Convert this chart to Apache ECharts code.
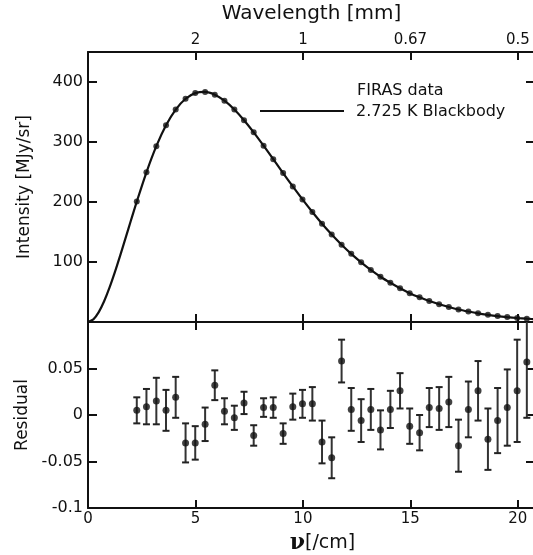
<!DOCTYPE html>
<html>
<head>
<meta charset="utf-8">
<script src="https://cdn.jsdelivr.net/npm/echarts@6/dist/echarts.min.js"></script>
<style>
html,body{margin:0;padding:0;background:#fff;}
#main{width:533px;height:555px;}
</style>
</head>
<body>
<div id="main"></div>
<script>
// FIRAS frequencies [/cm]
var nu = [2.27, 2.72, 3.18, 3.63, 4.08, 4.54, 4.99, 5.45, 5.90, 6.35, 6.81, 7.26, 7.71, 8.17, 8.62,
	9.08, 9.53, 9.98, 10.44, 10.89, 11.34, 11.80, 12.25, 12.71, 13.16, 13.61, 14.07, 14.52, 14.97,
	15.43, 15.88, 16.34, 16.79, 17.24, 17.70, 18.15, 18.61, 19.06, 19.51, 19.97, 20.42, 20.87, 21.33];
// intensity [MJy/sr]
var intensity = [200.7, 249.5, 293.0, 327.8, 354.1, 372.1, 381.5, 383.5, 378.9, 368.8, 354.1, 336.3,
	316.1, 293.9, 271.4, 248.2, 225.9, 204.3, 183.3, 163.8, 145.8, 128.8, 113.6, 99.5, 86.8, 75.4,
	65.3, 56.2, 48.1, 41.1, 35.0, 29.6, 25.0, 20.9, 17.5, 14.5, 12.0, 9.9, 8.2, 6.7, 5.5, 4.5, 3.7];
// blackbody curve below the first data point
var curveNu = [0, 0.25, 0.5, 0.75, 1.0, 1.25, 1.5, 1.75, 2.0];
var curveI = [0, 4.4, 16.4, 34.5, 57.1, 83.0, 111.0, 140.1, 169.5];
// residuals and error bars
var residual = [0.005, 0.009, 0.015, 0.005, 0.019, -0.030, -0.030, -0.010, 0.032, 0.004, -0.003,
	0.013, -0.022, 0.008, 0.008, -0.020, 0.009, 0.012, 0.012, -0.029, -0.046, 0.058, 0.006, -0.006,
	0.006, -0.016, 0.006, 0.026, -0.012, -0.019, 0.008, 0.007, 0.014, -0.033, 0.006, 0.026, -0.026,
	-0.006, 0.008, 0.026, 0.057];
var resErr = [0.014, 0.019, 0.025, 0.022, 0.022, 0.021, 0.018, 0.018, 0.016, 0.014, 0.013, 0.012,
	0.011, 0.010, 0.011, 0.011, 0.014, 0.015, 0.018, 0.023, 0.022, 0.023, 0.023, 0.023, 0.022, 0.021,
	0.020, 0.019, 0.019, 0.019, 0.021, 0.023, 0.027, 0.028, 0.030, 0.032, 0.033, 0.035, 0.041, 0.055,
	0.060];
// top axis: wavelength labels at these frequencies
var waveTickNu = [5, 10, 15, 20];
var waveTickLabel = ['2', '1', '0.67', '0.5'];

var FONT = 'DejaVu Sans';
var INK = '#111';

var pts = [], curve = [], res = [];
for (var i = 0; i < curveNu.length; i++) curve.push([curveNu[i], curveI[i]]);
for (var i = 0; i < nu.length; i++) {
	pts.push([nu[i], intensity[i]]);
	curve.push([nu[i], intensity[i]]);
}
for (var i = 0; i < residual.length; i++) res.push([nu[i], residual[i], resErr[i]]);

var chart = echarts.init(document.getElementById('main'));

function xAx(grid, pos, labels) {
	return {
		type: 'value', gridIndex: grid, position: pos, min: 0, max: 20.8, interval: 5,
		axisLine: {show: true, onZero: false, lineStyle: {color: INK, width: 2}},
		axisTick: {show: true, inside: true, length: 8, lineStyle: {color: INK, width: 2}},
		axisLabel: {show: labels, color: INK, fontFamily: FONT, fontSize: 15, margin: 4, showMaxLabel: false},
		splitLine: {show: false}
	};
}
function yAx(grid, pos, min, max, step, fmt) {
	return {
		type: 'value', gridIndex: grid, position: pos, min: min, max: max, interval: step,
		axisLine: {show: pos == 'left', onZero: false, lineStyle: {color: INK, width: 2}},
		axisTick: {show: true, inside: true, length: 9, lineStyle: {color: INK, width: 2}},
		axisLabel: {show: !!fmt, formatter: fmt, color: INK, fontFamily: FONT, fontSize: 16, margin: 5},
		splitLine: {show: false}
	};
}

var xTopMain = xAx(0, 'top', true);
xTopMain.axisLabel.formatter = function (v) {
	var k = waveTickNu.indexOf(v);
	return k < 0 ? '' : waveTickLabel[k];
};
xTopMain.name = 'Wavelength [mm]';
xTopMain.nameLocation = 'middle';
xTopMain.nameGap = 28;
xTopMain.nameTextStyle = {color: INK, fontFamily: FONT, fontSize: 20};

var xBottom = xAx(1, 'bottom', true);
xBottom.name = '{nu|ν}[/cm]';
xBottom.nameLocation = 'middle';
xBottom.nameGap = 24;
xBottom.nameTextStyle = {color: INK, fontFamily: FONT, fontSize: 19, padding: [0, 0, 0, 22],
	rich: {nu: {fontFamily: 'DejaVu Serif', fontWeight: 'bold', fontSize: 22, color: INK}}};

var yMain = yAx(0, 'left', 0, 450, 100, function (v) { return (v === 0 || v > 400) ? '' : v; });
yMain.name = 'Intensity [MJy/sr]';
yMain.nameLocation = 'middle';
yMain.nameGap = 55;
yMain.nameTextStyle = {color: INK, fontFamily: FONT, fontSize: 17};

var yRes = yAx(1, 'left', -0.1, 0.1, 0.05, function (v) {
	if (v > 0.09) return '';
	return String(Math.round(v * 100) / 100);
});
yRes.name = 'Residual';
yRes.nameLocation = 'middle';
yRes.nameGap = 53;
yRes.nameTextStyle = {color: INK, fontFamily: FONT, fontSize: 17};

var option = {
	backgroundColor: '#fff',
	animation: false,
	grid: [
		{left: 88, top: 52, width: 447, height: 270, outerBoundsMode: 'none'},
		{left: 88, top: 322, width: 447, height: 186, outerBoundsMode: 'none'}
	],
	xAxis: [xAx(0, 'bottom', false), xTopMain, xBottom, xAx(1, 'top', false)],
	yAxis: [yMain, yAx(0, 'right', 0, 450, 100, null), yRes, yAx(1, 'right', -0.1, 0.1, 0.05, null)],
	graphic: [
		{type: 'line', shape: {x1: 260, y1: 111, x2: 344, y2: 111}, style: {stroke: INK, lineWidth: 2}},
		{type: 'text', left: 357, top: 83, style: {text: 'FIRAS data', fill: INK, font: '16px "DejaVu Sans"'}},
		{type: 'text', left: 356, top: 104, style: {text: '2.725 K Blackbody', fill: INK, font: '16px "DejaVu Sans"'}}
	],
	series: [
		{
			name: '2.725 K Blackbody', type: 'line', xAxisIndex: 0, yAxisIndex: 0,
			data: curve, smooth: 0.3, showSymbol: false, clip: true,
			lineStyle: {color: INK, width: 2.2}
		},
		{
			name: 'FIRAS data', type: 'scatter', xAxisIndex: 0, yAxisIndex: 0,
			data: pts, symbolSize: 6, clip: true, itemStyle: {color: INK}
		},
		{
			name: 'err', type: 'custom', xAxisIndex: 2, yAxisIndex: 2, data: res, clip: true,
			renderItem: function (params, api) {
				var x = api.value(0), y = api.value(1), e = api.value(2);
				var hi = api.coord([x, y + e]);
				var lo = api.coord([x, y - e]);
				var top = params.coordSys.y;
				var hw = 3.5;
				var kids = [{type: 'line', shape: {x1: hi[0], y1: Math.max(hi[1], top), x2: lo[0], y2: lo[1]},
					style: {stroke: '#333', lineWidth: 2}}];
				if (hi[1] >= top) kids.push({type: 'line', shape: {x1: hi[0] - hw, y1: hi[1], x2: hi[0] + hw, y2: hi[1]},
					style: {stroke: '#222', lineWidth: 2}});
				kids.push({type: 'line', shape: {x1: lo[0] - hw, y1: lo[1], x2: lo[0] + hw, y2: lo[1]},
					style: {stroke: '#222', lineWidth: 2}});
				return {type: 'group', children: kids};
			},
			encode: {x: 0, y: 1}
		},
		{
			name: 'residual', type: 'scatter', xAxisIndex: 2, yAxisIndex: 2,
			data: res, symbolSize: 7, clip: true, itemStyle: {color: INK}
		}
	]
};
chart.setOption(option);
</script>
</body>
</html>
